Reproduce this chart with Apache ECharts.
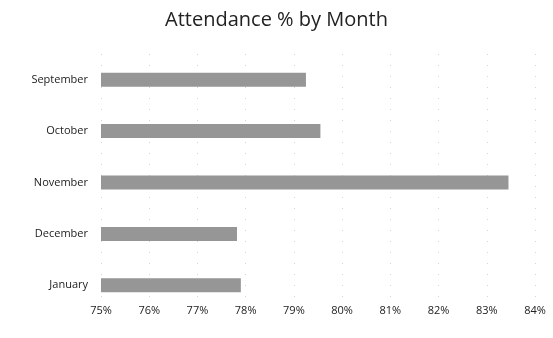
<!DOCTYPE html>
<html>
<head>
<meta charset="utf-8">
<script src="https://cdn.jsdelivr.net/npm/echarts@6/dist/echarts.min.js"></script>
<style>
  html, body { margin: 0; padding: 0; background: #fff; }
  #chart { width: 553px; height: 338px; }
</style>
</head>
<body>
<div id="chart"></div>
<script>
// months, top to bottom as in the picture
var months = ["September", "October", "November", "December", "January"];
var attendance = [79.25, 79.55, 83.45, 77.82, 77.9];
var xTicks = [75, 76, 77, 78, 79, 80, 81, 82, 83, 84];

var myChart = echarts.init(document.getElementById("chart"));

myChart.setOption({
  animation: false,
  title: {
    text: "Attendance % by Month",
    left: "center",
    top: 5,
    textStyle: {
      fontFamily: "Open Sans",
      fontWeight: "normal",
      fontSize: 20,
      color: "#222",
    },
  },
  grid: {
    left: 101,
    right: 18,
    top: 54,
    bottom: 27,
  },
  xAxis: {
    type: "value",
    min: xTicks[0],
    max: xTicks[xTicks.length - 1],
    interval: 1,
    axisLine: { show: false },
    axisTick: { show: false },
    axisLabel: {
      margin: -6,
      color: "#222",
      fontFamily: "Open Sans",
      fontSize: 11,
      formatter: function (v) {
        return v + "%";
      },
    },
    splitLine: {
      show: true,
      lineStyle: {
        color: "#d4d4d4",
        type: [1, 10],
        width: 1,
      },
    },
  },
  yAxis: {
    type: "category",
    inverse: true,
    data: months,
    axisLine: { show: false },
    axisTick: { show: false },
    axisLabel: {
      margin: 13,
      color: "#222",
      fontFamily: "Open Sans",
      fontSize: 11,
    },
  },
  series: [
    {
      name: "Attendance",
      type: "bar",
      data: attendance,
      barWidth: 14,
      itemStyle: {
        color: "#969696",
      },
    },
  ],
});
</script>
</body>
</html>
